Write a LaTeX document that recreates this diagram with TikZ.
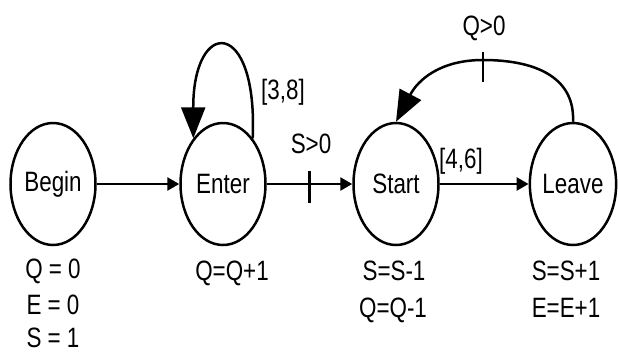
\documentclass[tikz,border=0pt]{standalone}
\usepackage{fontspec}
\setmainfont{Liberation Sans}[FakeStretch=0.8]
\usetikzlibrary{arrows.meta,shapes.geometric,calc}
\newcommand{\lblfont}{\fontsize{28}{32}\selectfont}
\begin{document}
\begin{tikzpicture}[x=1pt,y=-1pt,
  state/.style={draw, ellipse, line width=2.5pt, minimum width=85pt, minimum height=122pt, inner sep=0pt, font=\lblfont},
  conn/.style={line width=2.6pt, -{Triangle[length=12pt,width=13pt]}},
  bigconn/.style={line width=2.5pt, -{Triangle[length=31pt,width=24pt]}},
  tickmark/.style={line width=2.5pt},
  lbl/.style={font=\lblfont, inner sep=0pt},
  vlbl/.style={font=\lblfont, inner sep=0pt, anchor=base}]
\useasboundingbox (0,0) rectangle (618,354);
\node[state] (begin) at (53,184) {Begin};
\node[state] (enter) at (223,184) {Enter};
\node[state] (start) at (396,184) {Start};
\node[state] (leave) at (573,184) {Leave};

\draw[conn] (begin) -- (enter);
\draw[conn] (enter) -- coordinate (t1) (start);
\draw[tickmark] ($(t1)+(0,-13)$) -- ($(t1)+(0,19)$);
\draw[conn] (start) -- (leave);

\draw[bigconn] (enter.57) .. controls (258,17) and (193,17) .. (enter.123);

\draw[bigconn] (leave.north) .. controls (575,80) and (540,60) .. (483,60) coordinate (t2)
   .. controls (440,60) and (418,80) .. (start.north);
\draw[tickmark] ($(t2)+(0,-8)$) -- ($(t2)+(0,22)$);

\node[lbl] (l38) at (283,92) {[3,8]};
\node[lbl] (ls) at (311,144) {S>0};
\node[lbl] (l46) at (461,161) {[4,6]};
\node[lbl] (lq) at (484,28) {Q>0};

\node[vlbl] (b1) at (53,278) {Q = 0};
\node[vlbl] (b2) at (53,314) {E = 0};
\node[vlbl] (b3) at (53,347) {S = 1};
\node[vlbl] (e1) at (232,280) {Q=Q+1};
\node[vlbl] (s1) at (394,280) {S=S-1};
\node[vlbl] (s2) at (393,317) {Q=Q-1};
\node[vlbl] (v1) at (566,280) {S=S+1};
\node[vlbl] (v2) at (566,317) {E=E+1};
\end{tikzpicture}
\end{document}
